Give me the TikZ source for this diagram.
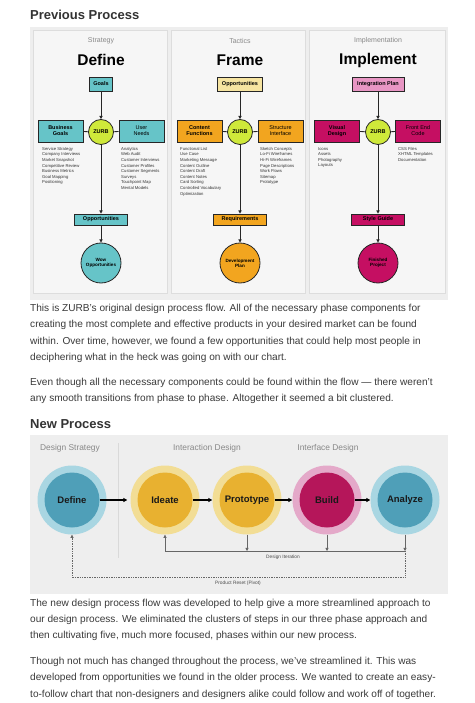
\documentclass[tikz,border=0pt]{standalone}
\usepackage{fontspec}
\setmainfont{Liberation Sans}
\usetikzlibrary{arrows.meta}
\definecolor{pagebg}{HTML}{EEEEEE}
\definecolor{panelbg}{HTML}{F6F6F6}
\definecolor{panelline}{HTML}{DDDDDD}
\definecolor{headc}{HTML}{333333}
\definecolor{bodyc}{HTML}{3A3A3A}
\definecolor{tealbox}{HTML}{66C4C8}
\definecolor{limec}{HTML}{CFE93A}
\definecolor{orangec}{HTML}{F2A51F}
\definecolor{paleor}{HTML}{F6E4A1}
\definecolor{magc}{HTML}{C50F62}
\definecolor{pinkc}{HTML}{E896C4}
\definecolor{blueout}{HTML}{A9D6E2}
\definecolor{bluein}{HTML}{4F9FB8}
\definecolor{yelout}{HTML}{F2DD95}
\definecolor{yelin}{HTML}{E8B130}
\definecolor{pinkout}{HTML}{E4A9C9}
\definecolor{crimin}{HTML}{B5165A}
\definecolor{labgray}{HTML}{888888}
\definecolor{itergray}{HTML}{666666}
\tikzset{
  box/.style={rectangle, draw=black!85, line width=0.7pt, inner sep=0pt, align=center,
    font=\fontsize{5.5}{6}\selectfont\bfseries},
  boxr/.style={box, font=\fontsize{5.5}{6}\selectfont},
  zurb/.style={circle, draw=black!85, line width=0.8pt, fill=limec, minimum size=25pt,
    inner sep=0pt, font=\fontsize{5.5}{6}\selectfont\bfseries},
  endc/.style={circle, draw=black!85, line width=0.8pt, minimum size=40pt, inner sep=0pt,
    align=center, font=\fontsize{4.6}{5.2}\selectfont\bfseries},
  lst/.style={anchor=north west, font=\fontsize{4.2}{5.6}\selectfont, align=left,
    inner sep=0pt, text=black!80},
  conn/.style={line width=0.8pt, draw=black!85},
  arr/.style={conn, -{Triangle[length=3.2pt,width=3.2pt]}},
  phase/.style={font=\fontsize{7}{7}\selectfont, text=labgray},
  big/.style={font=\fontsize{15.5}{16}\selectfont\bfseries, text=black},
  heading/.style={anchor=base west, inner sep=0pt, font=\fontsize{13}{13}\selectfont\bfseries, text=headc},
  body/.style={anchor=base west, inner sep=0pt, font=\fontsize{10.1}{11}\selectfont, text=bodyc},
  outc/.style={circle, minimum size=69pt, inner sep=0pt},
  inc/.style={circle, minimum size=55pt, inner sep=0pt, font=\fontsize{9.5}{10}\selectfont\bfseries, text=black!90},
  flow/.style={line width=1.2pt, draw=black, -{Triangle[length=4pt,width=4pt]}},
  iter/.style={line width=0.7pt, draw=itergray},
  itarr/.style={iter, -{Triangle[length=3.2pt,width=3.2pt]}},
  dlab/.style={font=\fontsize{8.4}{9}\selectfont, text=labgray},
  tiny/.style={font=\fontsize{4.8}{5}\selectfont, text=black!70},
}
\begin{document}
\begin{tikzpicture}[x=1pt,y=-1pt]
\useasboundingbox[fill=white] (0,0) rectangle (474,703);

% ---------- Previous Process ----------
\node[heading] (h1) at (30,20) {Previous Process};
\fill[pagebg] (30,27) rectangle (448,300);
\foreach \a/\b in {33/167,171/305,309/445}{
  \draw[panelline, fill=panelbg, line width=0.5pt] (\a,30) rectangle (\b,293);
}

% Panel 1 : Define
\node[phase] (p1t) at (101,41) {Strategy};
\node[big] (p1b) at (101,60) {Define};
\node[box, fill=tealbox, minimum width=23pt, minimum height=14pt] (goals) at (101,84) {Goals};
\node[zurb] (z1) at (101,132) {ZURB};
\node[box, fill=tealbox, minimum width=45pt, minimum height=22pt] (bgoal) at (60.5,131) {Business\\Goals};
\node[boxr, fill=tealbox, minimum width=45pt, minimum height=22pt] (uneed) at (141.5,131) {User\\Needs};
\node[box, fill=tealbox, minimum width=53pt, minimum height=11pt] (opp1) at (101,219.5) {Opportunities};
\node[endc, fill=tealbox] (wow) at (101,263) {Wow\\Opportunities};
\node[lst] (l1a) at (42,147) {Service Strategy\\Company Interviews\\Market Snapshot\\Competitive Review\\Business Metrics\\Goal Mapping\\Positioning};
\node[lst] (l1b) at (121,147) {Analytics\\Web Audit\\Customer Interviews\\Customer Profiles\\Customer Segments\\Surveys\\Touchpoint Map\\Mental Models};
\draw[arr] (goals) -- (z1);
\draw[conn] (bgoal) -- (z1);
\draw[conn] (z1) -- (uneed);
\draw[arr] (z1) -- (opp1);
\draw[arr] (opp1) -- (wow);

% Panel 2 : Frame
\node[phase] (p2t) at (240,41) {Tactics};
\node[big] (p2b) at (240,60) {Frame};
\node[box, fill=paleor, minimum width=45pt, minimum height=14pt] (opp2) at (240,84) {Opportunities};
\node[zurb] (z2) at (240,132) {ZURB};
\node[box, fill=orangec, minimum width=45pt, minimum height=22pt] (cfun) at (199.5,131) {Content\\Functions};
\node[boxr, fill=orangec, minimum width=45pt, minimum height=22pt] (sint) at (280.5,131) {Structure\\Interface};
\node[box, fill=orangec, minimum width=53pt, minimum height=11pt] (req) at (240,219.5) {Requirements};
\node[endc, fill=orangec] (dev) at (240,263) {Development\\Plan};
\node[lst] (l2a) at (180,147) {Functional List\\Use Case\\Marketing Message\\Content Outline\\Content Draft\\Content Notes\\Card Sorting\\Controlled Vocabulary\\Optimization};
\node[lst] (l2b) at (260,147) {Sketch Concepts\\Lo-Fi Wireframes\\Hi-Fi Wireframes\\Page Descriptions\\Work Flows\\Sitemap\\Prototype};
\draw[arr] (opp2) -- (z2);
\draw[conn] (cfun) -- (z2);
\draw[conn] (z2) -- (sint);
\draw[arr] (z2) -- (req);
\draw[arr] (req) -- (dev);

% Panel 3 : Implement
\node[phase] (p3t) at (378,41) {Implementation};
\node[big] (p3b) at (378,60) {Implement};
\node[box, fill=pinkc, minimum width=52pt, minimum height=14pt] (integ) at (378,84) {Integration Plan};
\node[zurb] (z3) at (378,132) {ZURB};
\node[box, fill=magc, minimum width=45pt, minimum height=22pt] (vdes) at (337,131) {Visual\\Design};
\node[boxr, fill=magc, minimum width=45pt, minimum height=22pt] (fec) at (418,131) {Front End\\Code};
\node[box, fill=magc, minimum width=53pt, minimum height=11pt] (sg) at (378,219.5) {Style Guide};
\node[endc, fill=magc] (fin) at (378,263) {Finished\\Project};
\node[lst] (l3a) at (318,147) {Icons\\Assets\\Photography\\Layouts};
\node[lst] (l3b) at (398,147) {CSS Files\\XHTML Templates\\Documentation};
\draw[arr] (integ) -- (z3);
\draw[conn] (vdes) -- (z3);
\draw[conn] (z3) -- (fec);
\draw[arr] (z3) -- (sg);
\draw[arr] (sg) -- (fin);

% ---------- paragraphs 1 ----------
\node[body] (t1) at (30,311) {This is ZURB's original design process flow. All of the necessary phase components for};
\node[body] (t2) at (30,327.5) {creating the most complete and effective products in your desired market can be found};
\node[body] (t3) at (30,344) {within. Over time, however, we found a few opportunities that could help most people in};
\node[body] (t4) at (30,360.5) {deciphering what in the heck was going on with our chart.};
\node[body] (t5) at (30,385) {Even though all the necessary components could be found within the flow — there weren't};
\node[body] (t6) at (30,401.5) {any smooth transitions from phase to phase. Altogether it seemed a bit clustered.};

% ---------- New Process ----------
\node[heading] (h2) at (30,428) {New Process};
\fill[pagebg] (30,435) rectangle (448,594);
\draw[black!15, line width=0.6pt] (118,443) -- (118,558);
\node[dlab] (d1) at (70,448) {Design Strategy};
\node[dlab] (d2) at (207,448) {Interaction Design};
\node[dlab] (d3) at (328,448) {Interface Design};

\node[outc, fill=blueout] (oDef) at (72,500) {};
\node[inc, fill=bluein] (iDef) at (72,500) {Define};
\node[outc, fill=yelout] (oIde) at (165,500) {};
\node[inc, fill=yelin] (iIde) at (165,500) {Ideate};
\node[outc, fill=yelout] (oPro) at (247,500) {};
\node[inc, fill=yelin] (iPro) at (247,500) {Prototype};
\node[outc, fill=pinkout] (oBui) at (327,500) {};
\node[inc, fill=crimin] (iBui) at (327,500) {Build};
\node[outc, fill=blueout] (oAna) at (405,500) {};
\node[inc, fill=bluein] (iAna) at (405,500) {Analyze};

\draw[flow, shorten >=3pt] (iDef) -- (oIde);
\draw[flow] (iIde) -- (oPro);
\draw[flow] (iPro) -- (oBui);
\draw[flow, line width=1.6pt] (iBui) -- (oAna);

\coordinate (itL) at (165,551);
\coordinate (itR) at (405,551);
\draw[iter] (itL) -- (itR);
\draw[itarr] (oPro.south) -- (oPro.south |- itL);
\draw[itarr] (oBui.south) -- (oBui.south |- itL);
\draw[itarr] (oAna.south) -- (oAna.south |- itL);
\draw[itarr] (itL) -- (oIde.south);
\node[tiny] (dit) at (283,557.5) {Design Iteration};

\coordinate (prR) at (405,577);
\coordinate (prL) at (72,577);
\draw[iter, densely dotted, -{Triangle[length=3.2pt,width=3.2pt]}] (itR) -- (prR) -- (prL) -- (oDef.south);
\node[tiny] (prl) at (238,583.5) {Product Reset (Pivot)};

% ---------- paragraphs 2 ----------
\node[body] (u1) at (30,606) {The new design process flow was developed to help give a more streamlined approach to};
\node[body] (u2) at (30,622) {our design process. We eliminated the clusters of steps in our three phase approach and};
\node[body] (u3) at (30,638) {then cultivating five, much more focused, phases within our new process.};
\node[body] (u4) at (30,664.5) {Though not much has changed throughout the process, we've streamlined it. This was};
\node[body] (u5) at (30,680.5) {developed from opportunities we found in the older process. We wanted to create an easy-};
\node[body] (u6) at (30,697) {to-follow chart that non-designers and designers alike could follow and work off of together.};
\end{tikzpicture}
\end{document}
